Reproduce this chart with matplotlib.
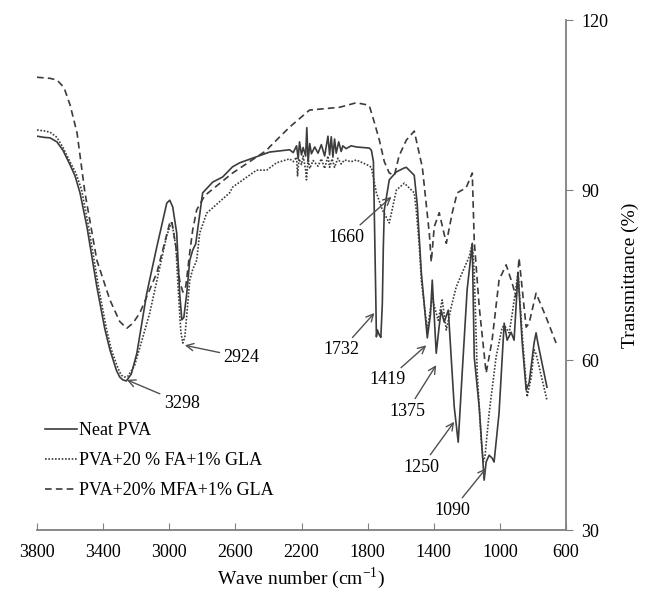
import matplotlib
matplotlib.use("Agg")
import matplotlib.pyplot as plt

plt.rcParams['font.family'] = ['Liberation Serif', 'DejaVu Serif']
plt.rcParams['mathtext.fontset'] = 'custom'
plt.rcParams['mathtext.rm'] = 'Liberation Serif'

# --- spectra (wave number, transmittance %) ---
neat_w = [3800, 3760, 3721, 3680, 3643, 3601, 3570, 3540, 3498, 3438, 3390, 3359, 3320,
          3300, 3281, 3260, 3230, 3196, 3136, 3075, 3015, 2997, 2979, 2955, 2937, 2924,
          2912, 2894, 2876, 2858, 2840, 2798, 2737, 2677, 2617, 2574, 2393, 2272, 2250,
          2230, 2220, 2212, 2200, 2190, 2175, 2168, 2160, 2150, 2140, 2120, 2100, 2080,
          2060, 2040, 2030, 2020, 2010, 2000, 1990, 1975, 1960, 1950, 1930, 1900, 1868,
          1790, 1777, 1765, 1759, 1750, 1747, 1741, 1729, 1720, 1711, 1705, 1699, 1669,
          1626, 1578, 1566, 1518, 1500, 1475, 1439, 1420, 1409, 1385, 1367, 1355, 1337,
          1312, 1276, 1252, 1228, 1198, 1167, 1155, 1125, 1095, 1083, 1065, 1047, 1035,
          1005, 974, 956, 932, 914, 890, 866, 841, 823, 793, 781, 770, 715]
neat_t = [99.5, 99.3, 99.2, 98.5, 97.0, 94.5, 92.5, 89.5, 83.5, 72.9, 65.5, 61.8, 58.2,
          57.0, 56.5, 56.3, 57.5, 61.2, 71.8, 80.0, 87.7, 88.2, 87.0, 82.4, 71.8, 67.1,
          67.5, 71.8, 77.6, 79.4, 80.5, 89.5, 91.4, 92.3, 94.1, 94.8, 96.7, 97.1, 96.6,
          97.8, 95.5, 98.5, 96.2, 97.5, 96.0, 101.0, 95.0, 98.2, 96.4, 97.6, 96.5, 98.0,
          96.0, 99.5, 96.2, 99.4, 95.8, 99.0, 96.5, 98.5, 96.8, 97.8, 97.3, 97.8, 97.6,
          97.4, 97.0, 95.0, 85.0, 70.0, 64.1, 65.3, 64.4, 64.0, 70.0, 80.0, 86.5, 91.8,
          93.2, 93.9, 94.0, 92.6, 87.5, 75.4, 63.9, 68.0, 74.1, 61.2, 66.0, 68.8, 66.7,
          68.8, 51.7, 45.5, 57.7, 72.4, 80.6, 60.5, 51.7, 38.8, 42.0, 43.2, 42.7, 42.0,
          50.6, 66.5, 63.5, 64.9, 63.5, 75.4, 63.5, 54.7, 56.0, 63.0, 64.8, 63.0, 55.2]

fa_w = [3800, 3750, 3721, 3680, 3643, 3601, 3565, 3530, 3488, 3428, 3380, 3350, 3310,
        3290, 3270, 3251, 3210, 3180, 3118, 3060, 3015, 2985, 2960, 2945, 2930, 2918,
        2906, 2894, 2876, 2858, 2834, 2816, 2774, 2635, 2617, 2472, 2411, 2351, 2272,
        2250, 2230, 2224, 2215, 2200, 2190, 2175, 2170, 2160, 2150, 2130, 2100, 2080,
        2060, 2040, 2030, 2015, 2000, 1980, 1960, 1940, 1900, 1868, 1800, 1777, 1747,
        1711, 1669, 1626, 1578, 1518, 1506, 1487, 1475, 1439, 1409, 1397, 1373, 1349,
        1324, 1294, 1264, 1228, 1186, 1167, 1155, 1137, 1113, 1100, 1090, 1065, 1023,
        986, 970, 944, 926, 890, 866, 835, 810, 793, 780, 715]
fa_t = [100.6, 100.4, 100.2, 99.3, 97.5, 95.0, 93.0, 90.0, 83.5, 72.9, 65.5, 61.8, 58.5,
        57.3, 57.0, 57.1, 59.0, 62.0, 68.3, 76.0, 82.0, 84.4, 80.0, 72.0, 65.0, 63.0,
        64.0, 68.0, 74.1, 76.0, 77.6, 82.4, 85.9, 89.5, 90.5, 93.5, 93.5, 94.8, 95.5,
        95.0, 95.8, 92.5, 95.5, 94.5, 96.0, 93.5, 91.8, 95.5, 93.8, 95.2, 94.2, 95.5,
        93.8, 96.0, 94.0, 95.5, 94.0, 95.6, 94.6, 95.3, 95.0, 95.3, 94.4, 94.0, 89.5,
        86.5, 84.2, 90.0, 91.2, 89.5, 86.5, 80.0, 74.0, 65.3, 71.1, 69.5, 67.0, 70.6,
        65.3, 69.4, 72.9, 75.4, 78.2, 80.5, 75.4, 57.7, 45.9, 42.0, 43.0, 50.6, 60.5,
        65.8, 66.0, 64.8, 68.0, 75.4, 65.0, 53.5, 57.0, 61.8, 61.0, 52.9]

mfa_w = [3800, 3720, 3679, 3650, 3631, 3600, 3558, 3510, 3438, 3359, 3300, 3257, 3220,
         3178, 3075, 2997, 2985, 2960, 2937, 2918, 2900, 2876, 2858, 2834, 2786, 2617,
         2411, 2393, 2272, 2152, 1970, 1868, 1850, 1800, 1789, 1760, 1729, 1699, 1669,
         1638, 1610, 1566, 1518, 1469, 1427, 1415, 1397, 1367, 1324, 1288, 1258, 1204,
         1167, 1155, 1125, 1083, 1047, 1005, 962, 926, 902, 884, 841, 823, 781, 721, 660]
mfa_t = [109.9, 109.7, 109.4, 108.5, 107.6, 105.0, 100.1, 89.5, 77.6, 70.6, 66.8, 65.6, 66.5,
         68.3, 75.4, 84.2, 84.5, 80.0, 74.0, 72.0, 73.0, 79.0, 83.0, 86.5, 89.0, 93.0,
         97.0, 97.6, 101.1, 104.1, 104.6, 105.4, 105.3, 105.0, 104.8, 102.0, 98.8, 95.0, 93.0,
         92.6, 96.0, 98.8, 100.4, 94.0, 82.4, 77.3, 83.5, 86.0, 80.6, 86.0, 89.5, 90.4,
         93.0, 81.0, 69.4, 57.7, 63.5, 74.1, 76.8, 73.6, 71.1, 78.0, 65.8, 66.5, 71.8, 67.6, 63.0]

# peak labels: text, arrow tip (w, T), text position (w, T)
peak_labels = ["3298", "2924", "1732", "1660", "1419", "1375", "1250", "1090"]
peak_tips = [(3257, 56.5), (2906, 62.6), (1759, 68.3), (1656, 88.8),
             (1445, 62.6), (1385, 59.1), (1276, 49.1), (1083, 40.9)]
peak_text = [(2924, 52.4), (2562, 60.5), (1958, 61.8), (1928, 81.7),
             (1681, 56.5), (1560, 51.0), (1475, 41.1), (1288, 33.5)]

fig = plt.figure(figsize=(6.45, 5.92), dpi=100)
ax = fig.add_axes([0.0574, 0.1047, 0.8201, 0.8615])

col = '#3c3c3c'
ax.plot(neat_w, neat_t, color=col, lw=1.2, ls='-', label='Neat PVA')
ax.plot(fa_w, fa_t, color=col, lw=1.2, ls=(0, (1, 1)), label='PVA+20 % FA+1% GLA')
ax.plot(mfa_w, mfa_t, color=col, lw=1.2, ls=(0, (4, 2.5)), label='PVA+20% MFA+1% GLA')

for lab, tip, pos in zip(peak_labels, peak_tips, peak_text):
    ax.annotate(lab, xy=tip, xytext=pos, fontsize=13, ha='center', va='center',
                arrowprops=dict(arrowstyle='->', color='#505050', lw=1.0,
                                shrinkA=1, shrinkB=0))

ax.set_xlim(3800, 600)
ax.set_ylim(30, 120)
ax.set_xticks([3800, 3400, 3000, 2600, 2200, 1800, 1400, 1000, 600])
ax.set_yticks([30, 60, 90, 120])

ax.spines['left'].set_visible(False)
ax.spines['top'].set_visible(False)
for s in ['bottom', 'right']:
    ax.spines[s].set_color('#808080')
    ax.spines[s].set_linewidth(1.3)

ax.yaxis.tick_right()
ax.yaxis.set_label_position('right')
ax.tick_params(axis='x', direction='in', length=5, color='#808080', labelsize=13, pad=10)
ax.tick_params(axis='y', direction='out', length=5, color='#808080', labelsize=13, pad=6)

ax.set_xlabel('Wave number (cm$^{-1}$)', fontsize=14, labelpad=3)
ax.set_ylabel('Transmittance (%)', fontsize=14, labelpad=10)

ax.legend(loc='upper left', bbox_to_anchor=(0.015, 0.212), frameon=False, fontsize=13,
          handlelength=1.8, handletextpad=0.1, labelspacing=0.72, borderpad=0, borderaxespad=0)

fig.savefig('out.png', dpi=100)
